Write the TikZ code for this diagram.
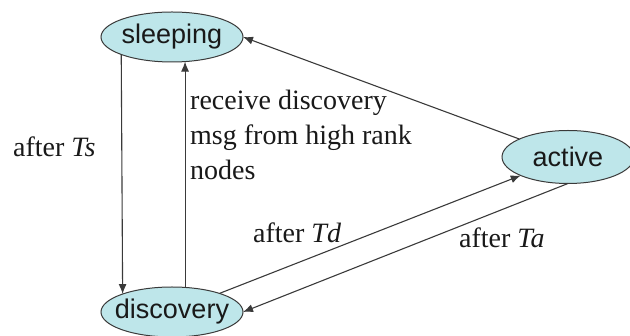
\documentclass[tikz,border=0pt]{standalone}
\usepackage{fontspec}
\setmainfont{Liberation Serif}
\newfontfamily\nodefont{Liberation Sans}
\usetikzlibrary{arrows.meta,shapes.geometric}
\definecolor{statefill}{HTML}{BEE6EA}
\definecolor{lineclr}{HTML}{3A3A3A}
\begin{document}
\begin{tikzpicture}[x=1pt,y=-1pt,
  state/.style={ellipse, draw=lineclr, fill=statefill, line width=1pt, inner sep=0pt, outer sep=0pt,
    minimum width=142pt, minimum height=50pt},
  statetext/.style={font=\nodefont\fontsize{27}{30}\selectfont, text=black!90},
  conn/.style={draw=lineclr, line width=1.1pt, -{Latex[length=10pt,width=8pt]}},
  lbl/.style={font=\fontsize{28}{35}\selectfont, text=black!90, inner sep=0pt, align=left}
]
\useasboundingbox (0,0) rectangle (630,336);
\node[state] (sleeping) at (172,37) {};
\node[state] (discovery) at (172,312) {};
\node[state, minimum width=132pt, minimum height=53pt] (active) at (568,157) {};
\node[statetext] (tsleep) at (sleeping) {sleeping};
\node[statetext] (tdisc) at (discovery) {discovery};
\node[statetext] (tact) at (active) {active};

\draw[conn] (sleeping.199.5) -- (discovery.160.5);
\draw[conn] (discovery.62.1) -- (sleeping.-62.1);
\draw[conn] (active) -- (sleeping.east);
\draw[conn] (discovery) -- (active);
\draw[conn] (active.south) -- (discovery.east);

\node[lbl, anchor=base west] (lts) at (13,157) {after \textit{Ts}};
\node[lbl, anchor=base west] (lrecv) at (190,180) {receive discovery\\msg from high rank\\nodes};
\node[lbl, anchor=base west] (ltd) at (253,243) {after \textit{Td}};
\node[lbl, anchor=base west] (lta) at (459,248) {after \textit{Ta}};
\end{tikzpicture}
\end{document}
